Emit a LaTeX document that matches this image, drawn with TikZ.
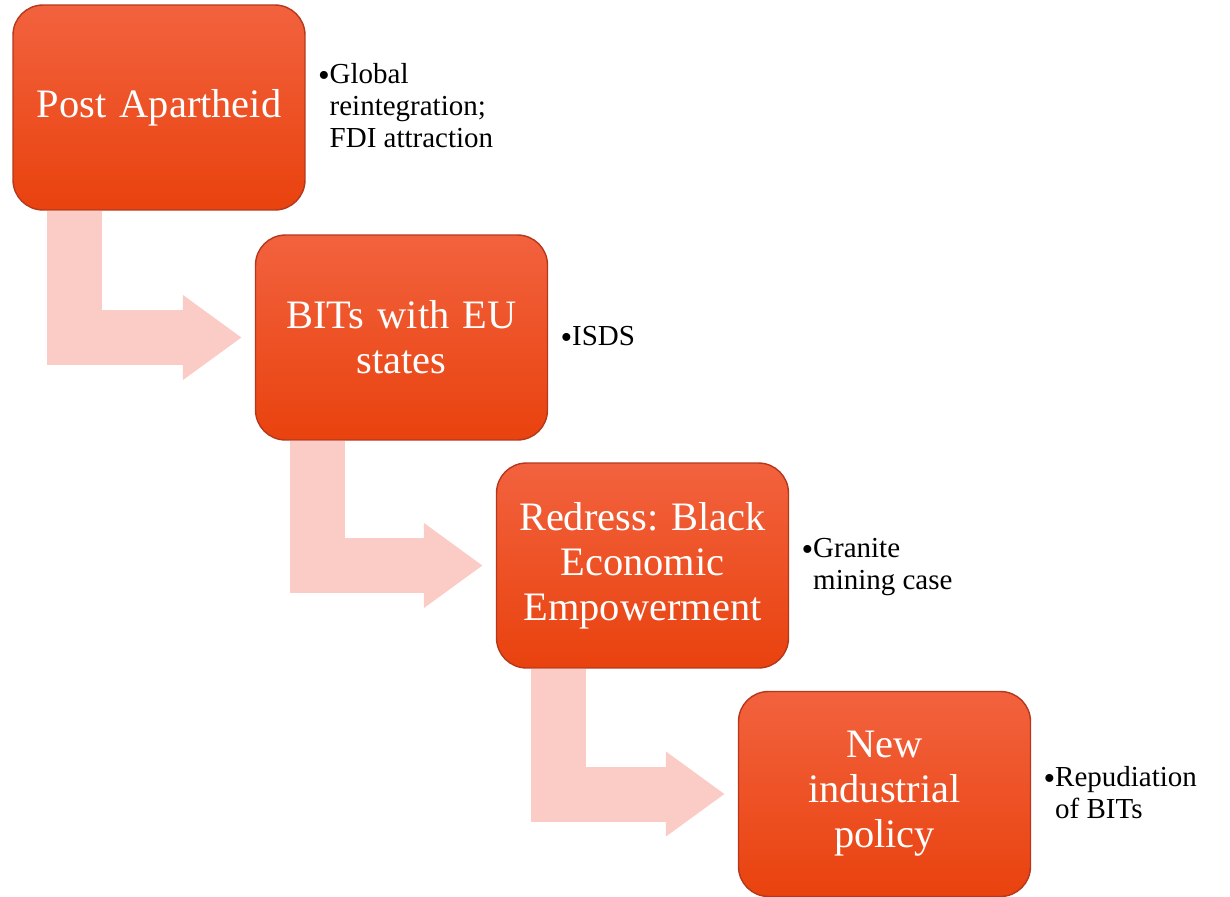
\documentclass[tikz,border=0pt]{standalone}
\usepackage{fontspec}
\setmainfont{Liberation Serif}
\usepackage{tikz}
\usetikzlibrary{arrows.meta,calc}

\definecolor{boxtop}{HTML}{F2623E}
\definecolor{boxbot}{HTML}{E9420E}
\definecolor{boxline}{HTML}{B5381C}
\definecolor{bentpink}{HTML}{FBCBC6}

\pgfdeclarelayer{background}
\pgfsetlayers{background,main}

\newcommand{\notebullet}{\raisebox{-1.5pt}{\fontsize{19}{18}\selectfont\textbullet}}

\tikzset{
  stagebox/.style={rounded corners=0.6cm, draw=boxline, line width=0.8pt,
    top color=boxtop, bottom color=boxbot, text=white, align=center,
    minimum width=5.84cm, minimum height=4.1cm, inner sep=2pt,
    font=\fontsize{23}{25.6}\selectfont},
  notetext/.style={anchor=west, inner sep=0pt, text=black,
    font=\fontsize{16.5}{18.2}\selectfont},
  bentarrow/.style={draw=bentpink, line width=1.1cm, line join=miter,
    -{Triangle[width=1.62cm, length=1.18cm, fill=bentpink]}}
}

\begin{document}
\frenchspacing
\begin{tikzpicture}[x=0.02cm, y=-0.02cm]
\useasboundingbox (0,0) rectangle (1230,896);
\node[stagebox, text width=5.6cm] (b1) at (159,107.5) {Post Apartheid};
\node[stagebox, text width=5.2cm] (b2) at (401.5,337.5) {BITs with EU\\states};
\node[stagebox, text width=5.6cm] (b3) at (642.5,565.5) {Redress: Black\\Economic\\Empowerment};
\node[stagebox, text width=5.2cm] (b4) at (884.5,794) {New\\industrial\\policy};
\begin{pgfonlayer}{background}
\draw[bentarrow] ($(b1.south west)+(62.5,0)$) |- ($(b2.west)+(-13,0)$);
\draw[bentarrow] ($(b2.south west)+(62.5,0)$) |- ($(b3.west)+(-13,0)$);
\draw[bentarrow] ($(b3.south west)+(62.5,0)$) |- ($(b4.west)+(-13,0)$);
\end{pgfonlayer}
\node[notetext] (t1) at ($(b1.east)+(12,2)$) {\begin{tabular}{@{}l@{}l@{}}\notebullet&Global\\&reintegration;\\&FDI attraction\end{tabular}};
\node[notetext] (t2) at ($(b2.east)+(12,2)$) {\begin{tabular}{@{}l@{}l@{}}\notebullet&ISDS\end{tabular}};
\node[notetext] (t3) at ($(b3.east)+(12,2)$) {\begin{tabular}{@{}l@{}l@{}}\notebullet&Granite\\&mining case\end{tabular}};
\node[notetext] (t4) at ($(b4.east)+(12,2)$) {\begin{tabular}{@{}l@{}l@{}}\notebullet&Repudiation\\&of BITs\end{tabular}};
\end{tikzpicture}
\end{document}
